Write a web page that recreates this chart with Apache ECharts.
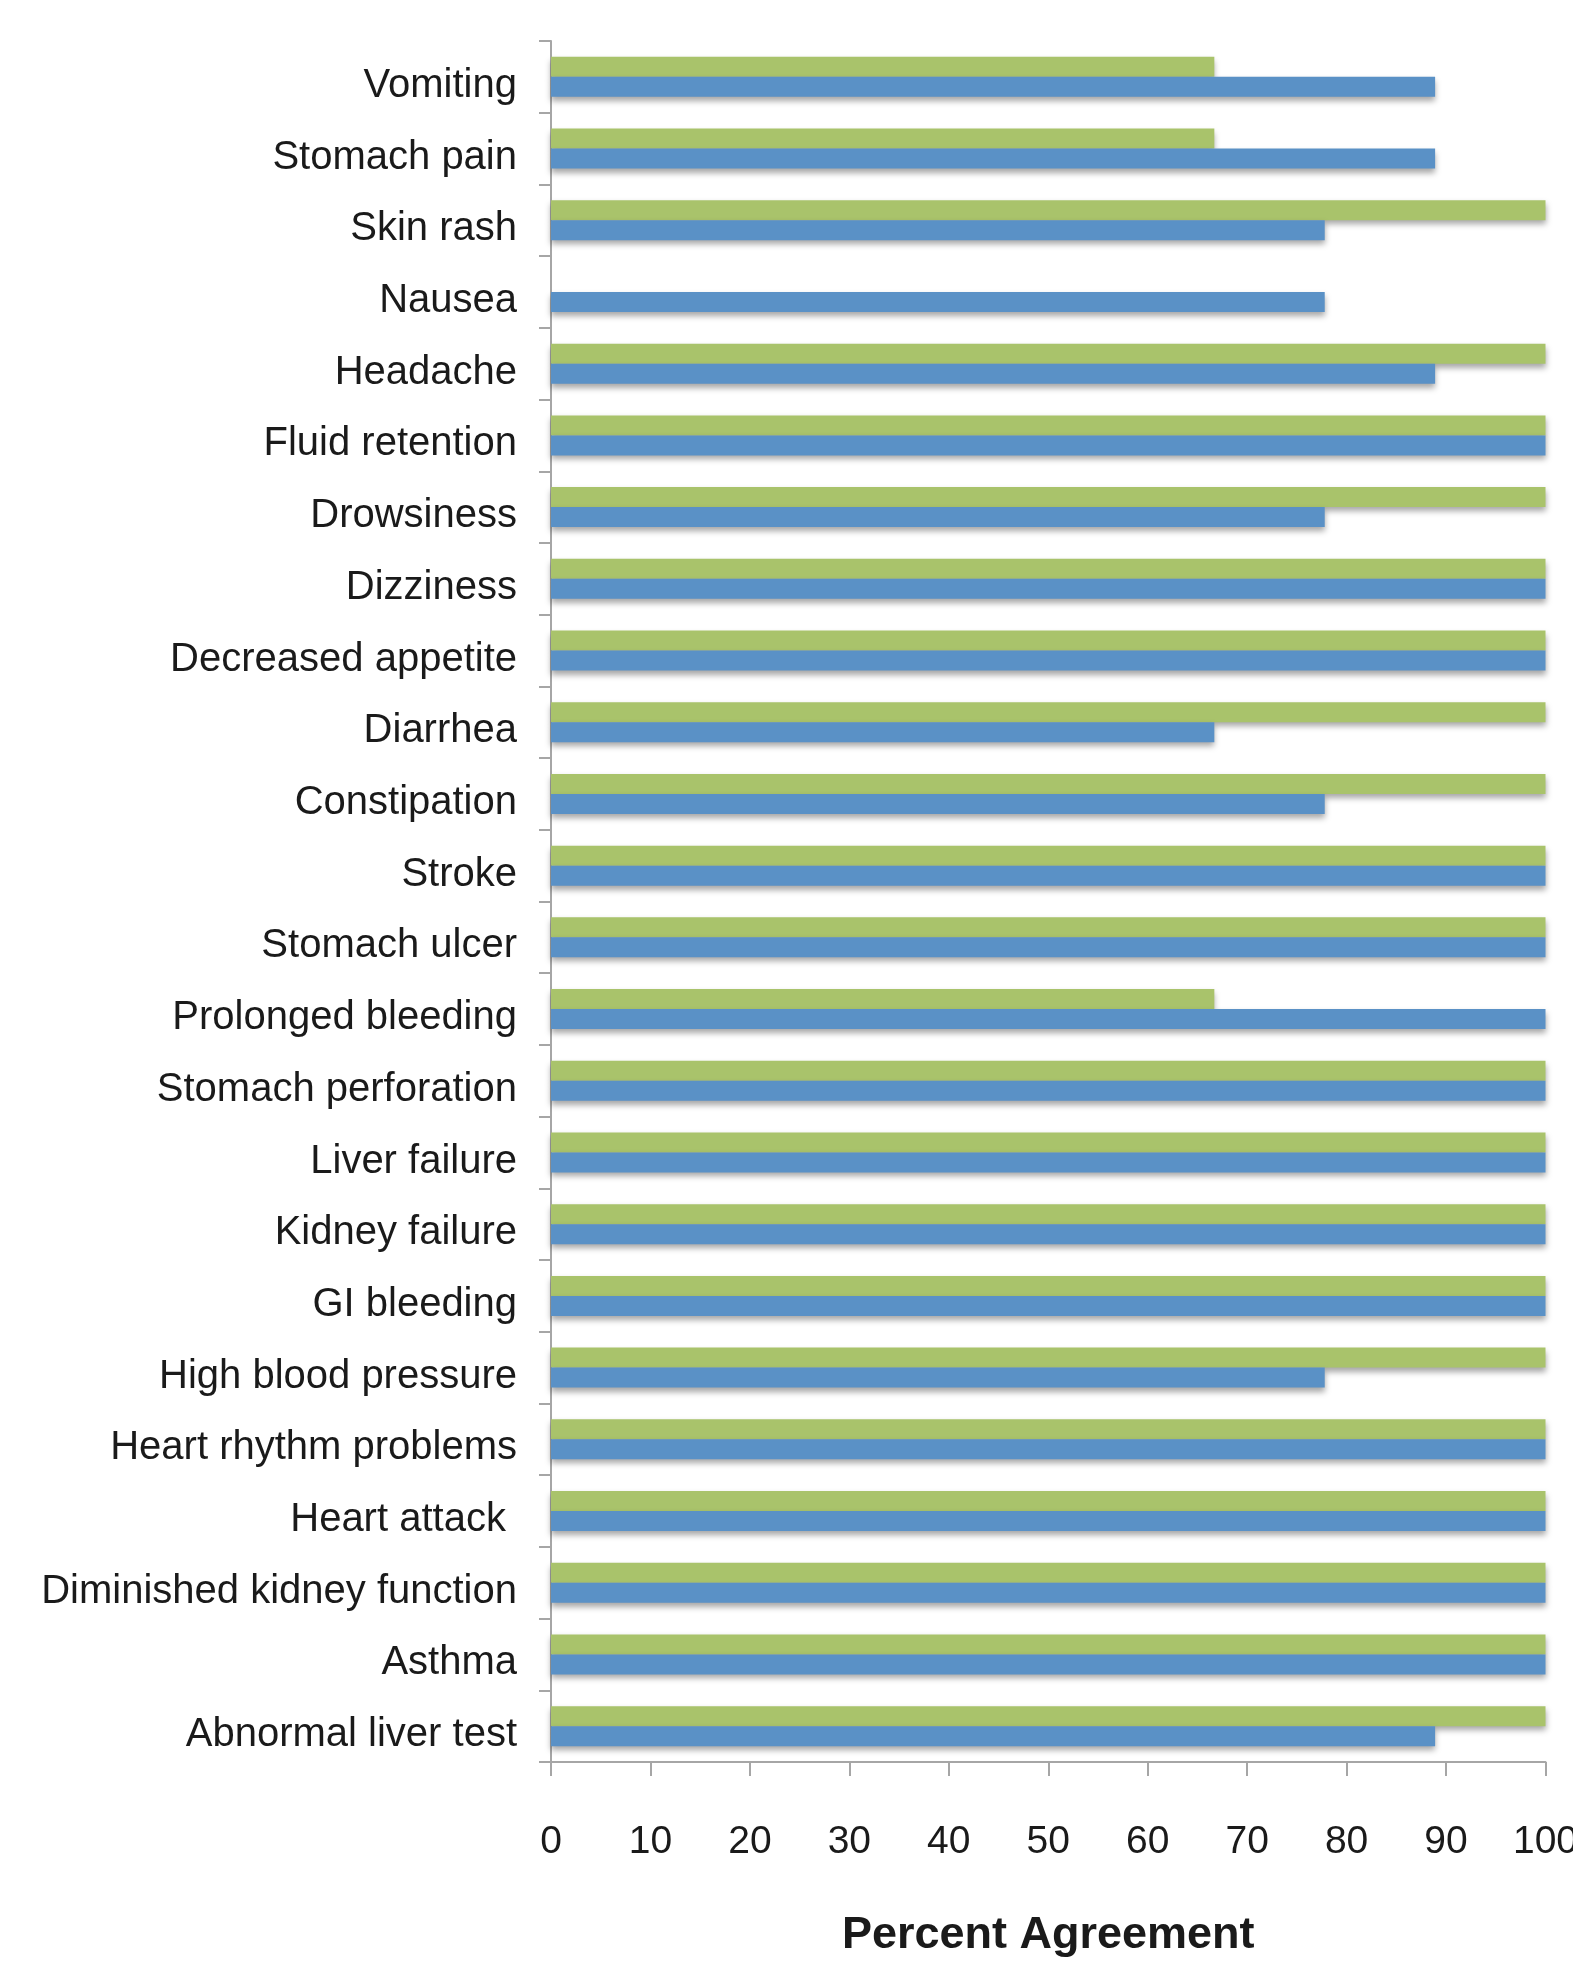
<!DOCTYPE html>
<html lang="en">
<head>
    <meta charset="UTF-8">
    <title>Percent Agreement</title>
    <script src="https://cdn.jsdelivr.net/npm/echarts@6/dist/echarts.min.js"></script>
    <style>
        html, body { margin: 0; padding: 0; background: #fff; }
        #chart { width: 1573px; height: 1962px; }
    </style>
</head>
<body>
    <div id="chart"></div>
    <script type="text/javascript">
        // categories, top to bottom as in the picture
        var categories = [
            'Vomiting', 'Stomach pain', 'Skin rash', 'Nausea', 'Headache',
            'Fluid retention', 'Drowsiness', 'Dizziness', 'Decreased appetite',
            'Diarrhea', 'Constipation', 'Stroke', 'Stomach ulcer',
            'Prolonged bleeding', 'Stomach perforation', 'Liver failure',
            'Kidney failure', 'GI bleeding', 'High blood pressure',
            'Heart rhythm problems', 'Heart attack ', 'Diminished kidney function',
            'Asthma', 'Abnormal liver test'
        ];
        // green bars (upper bar of each pair)
        var greenValues = [
            66.7, 66.7, 100, 0, 100,
            100, 100, 100, 100,
            100, 100, 100, 100,
            66.7, 100, 100,
            100, 100, 100,
            100, 100, 100,
            100, 100
        ];
        // blue bars (lower bar of each pair)
        var blueValues = [
            88.9, 88.9, 77.8, 77.8, 88.9,
            100, 77.8, 100, 100,
            66.7, 77.8, 100, 100,
            100, 100, 100,
            100, 100, 77.8,
            100, 100, 100,
            100, 88.9
        ];
        var xTicks = [0, 10, 20, 30, 40, 50, 60, 70, 80, 90, 100];

        var font = "'Liberation Sans', Arial, sans-serif";
        var axisGray = '#a6a6a6';
        var textColor = '#1a1a1a';

        var chart = echarts.init(document.getElementById('chart'));

        // soft drop shadow under each bar, like the original
        var barShadow = {
            shadowColor: 'rgba(0,0,0,0.35)',
            shadowBlur: 6,
            shadowOffsetY: 4
        };

        chart.setOption({
            animation: false,
            backgroundColor: '#ffffff',
            grid: {
                left: 551,
                right: 27.5,
                top: 41,
                bottom: 200,
                containLabel: false,
                outerBoundsMode: 'none'
            },
            xAxis: {
                type: 'value',
                min: xTicks[0],
                max: xTicks[xTicks.length - 1],
                interval: 10,
                name: 'Percent Agreement',
                nameLocation: 'middle',
                nameGap: 151,
                nameTextStyle: {
                    fontFamily: font,
                    fontSize: 45,
                    fontWeight: 'bold',
                    color: textColor
                },
                axisLine: { show: true, lineStyle: { color: axisGray, width: 2 } },
                axisTick: { show: true, length: 14, lineStyle: { color: axisGray, width: 2 } },
                axisLabel: {
                    margin: 61,
                    fontFamily: font,
                    fontSize: 39,
                    color: textColor
                },
                splitLine: { show: false }
            },
            yAxis: {
                type: 'category',
                data: categories,
                inverse: true,
                axisLine: { show: true, lineStyle: { color: axisGray, width: 2 } },
                axisTick: { show: true, length: 12, lineStyle: { color: axisGray, width: 2 } },
                axisLabel: {
                    margin: 34,
                    fontFamily: font,
                    fontSize: 40,
                    // labels sit a little below the band centre in the original
                    verticalAlign: 'top',
                    lineHeight: 18,
                    color: textColor
                }
            },
            series: [
                {
                    name: 'Green',
                    type: 'bar',
                    data: greenValues,
                    barWidth: 20,
                    barGap: '0%',
                    itemStyle: Object.assign({ color: '#a9c36b' }, barShadow)
                },
                {
                    name: 'Blue',
                    type: 'bar',
                    data: blueValues,
                    barWidth: 20,
                    barGap: '0%',
                    itemStyle: Object.assign({ color: '#5a91c6' }, barShadow)
                }
            ]
        });
    </script>
</body>
</html>
